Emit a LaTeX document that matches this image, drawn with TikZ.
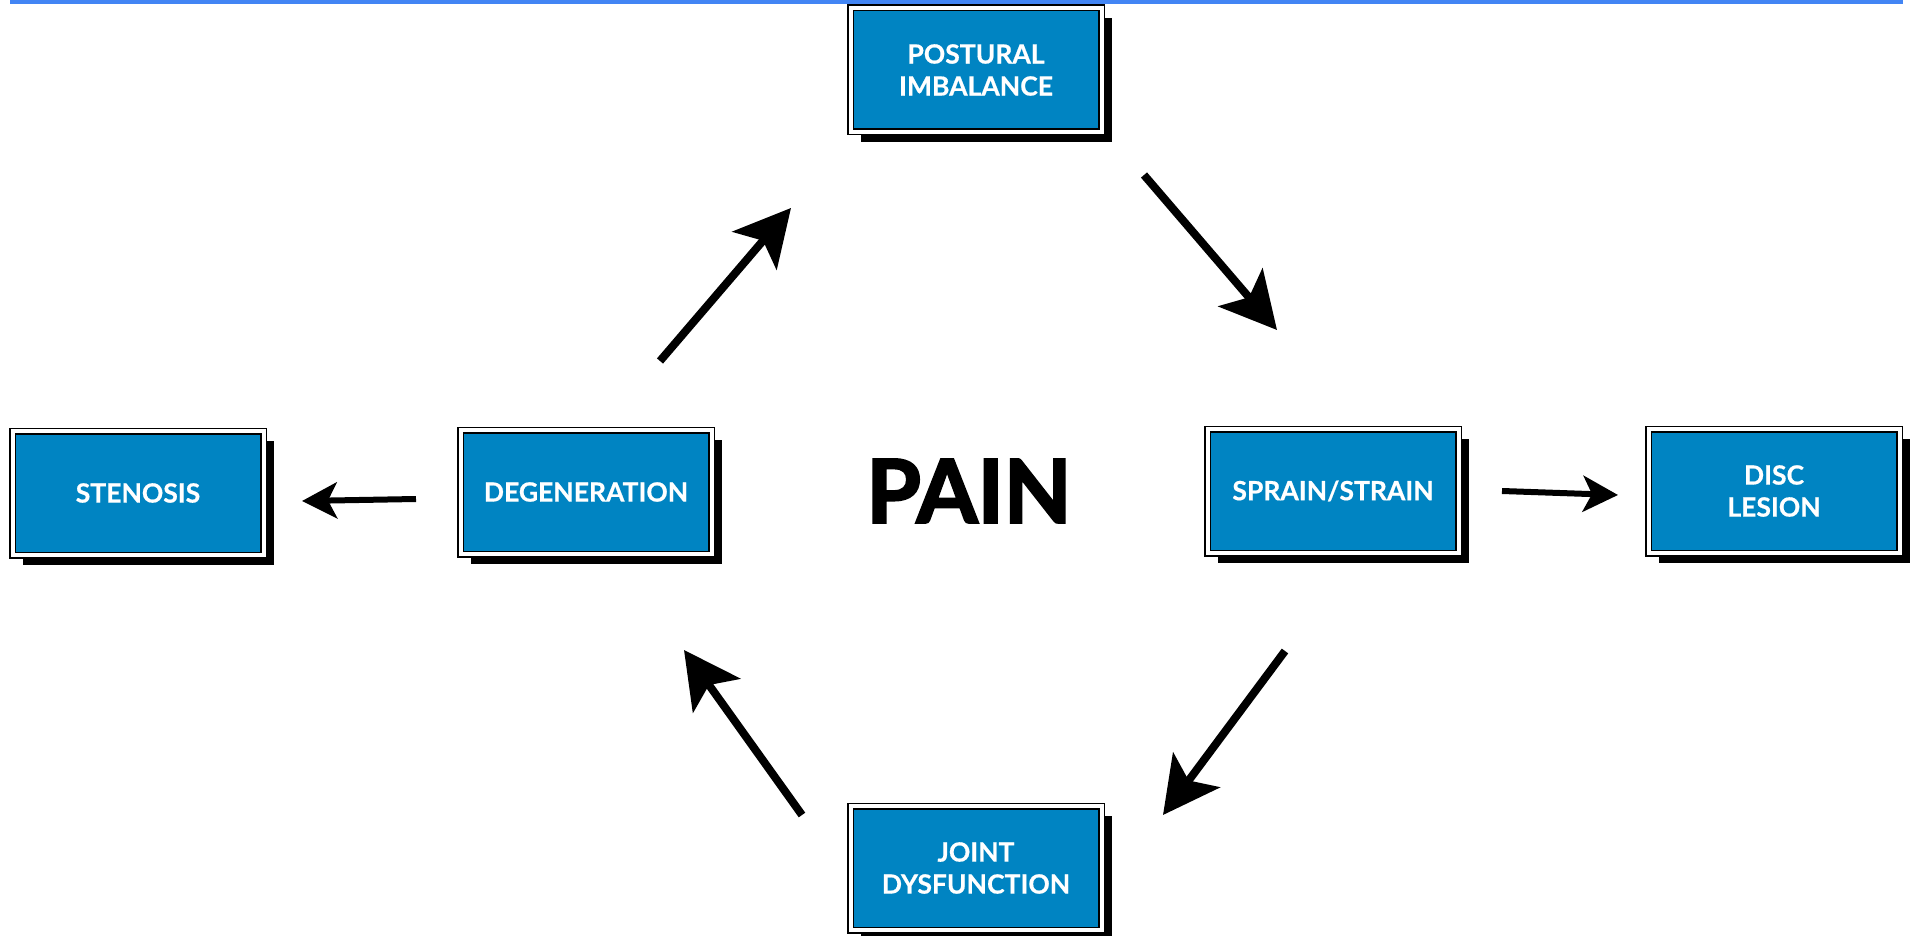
\documentclass[tikz,border=0pt]{standalone}
\usepackage{fontspec}
\setsansfont{Lato}[BoldFeatures={FakeBold=0.6}]
\newfontfamily\painfont{Lato}[BoldFeatures={FakeBold=2.5}]
\usetikzlibrary{arrows.meta,shadows}
\definecolor{boxblue}{RGB}{0,132,194}
\definecolor{barblue}{RGB}{66,133,244}
\tikzset{
  cause/.style={draw=black, line width=1.5pt, double=white, double distance=4pt,
    fill=boxblue, minimum width=251pt, minimum height=124pt, inner sep=0pt,
    align=center, text=white, font=\sffamily\bfseries\fontsize{26.5}{32}\selectfont,
    drop shadow={shadow xshift=10pt, shadow yshift=-10pt, fill=black, opacity=1}},
  flow/.style={line width=8pt, -{Stealth[length=56pt,width=58pt,inset=13pt]}},
  side/.style={line width=6pt, -{Stealth[length=35pt,width=36pt,inset=9pt]}}
}
\begin{document}
\begin{tikzpicture}[x=1pt,y=-1pt]
  \useasboundingbox (0,0) rectangle (1915,936);
  \fill[barblue] (10,0) rectangle (1903,4);
  % boxes
  \node[cause] (post) at (976,70) {POSTURAL\\IMBALANCE};
  \node[cause] (sten) at (138,493) {STENOSIS};
  \node[cause] (deg) at (586,492) {DEGENERATION};
  \node[cause] (sprain) at (1333,491) {SPRAIN/STRAIN};
  \node[cause] (disc) at (1774,491) {DISC\\LESION};
  \node[cause] (joint) at (976,868) {JOINT\\DYSFUNCTION};
  \node[font=\painfont\bfseries\fontsize{88}{88}\selectfont] (pain) at (969,491) {PAIN};
  % arrow ends
  \coordinate (a1) at (660,361); \coordinate (b1) at (791,208);
  \coordinate (a2) at (1144,175); \coordinate (b2) at (1277,330);
  \coordinate (a3) at (1285,651); \coordinate (b3) at (1163,815);
  \coordinate (a4) at (802,815); \coordinate (b4) at (684,650);
  \coordinate (a5) at (416,499); \coordinate (b5) at (302,501);
  \coordinate (a6) at (1502,491); \coordinate (b6) at (1618,495);
  \draw[flow] (a1) -- (b1);
  \draw[flow] (a2) -- (b2);
  \draw[flow] (a3) -- (b3);
  \draw[flow] (a4) -- (b4);
  \draw[side] (a5) -- (b5);
  \draw[side] (a6) -- (b6);
\end{tikzpicture}
\end{document}
